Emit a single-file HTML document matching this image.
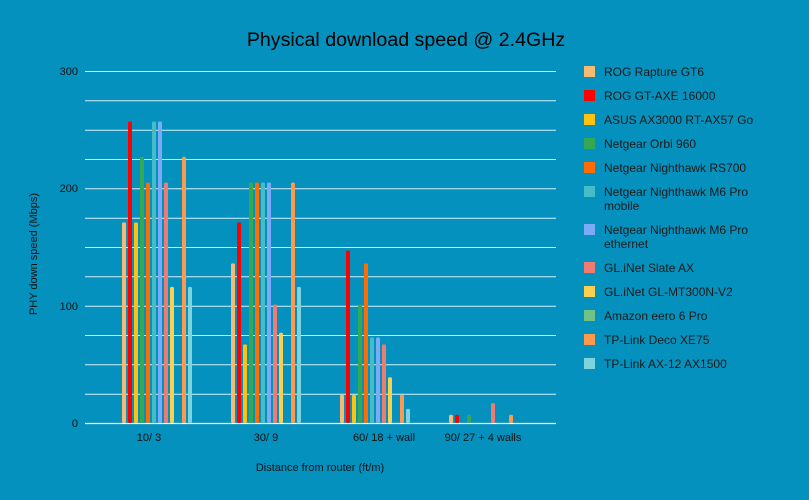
<!DOCTYPE html>
<html><head><meta charset="utf-8"><style>
html,body{margin:0;padding:0;background:#0591bd;}
svg{display:block;font-family:"Liberation Sans",Arial,sans-serif;}
</style></head><body>
<svg width="809" height="500" viewBox="0 0 809 500" xmlns="http://www.w3.org/2000/svg">
<rect width="809" height="500" fill="#0591bd"/>
<text x="406" y="46" font-size="19.6" text-anchor="middle" fill="#000">Physical download speed @ 2.4GHz</text>
<g stroke="#d6f0f8" stroke-width="1">
<line x1="85" x2="556" y1="71.5" y2="71.5"/><line x1="85" x2="556" y1="100.8" y2="100.8"/>
<line x1="85" x2="556" y1="130.2" y2="130.2"/><line x1="85" x2="556" y1="159.5" y2="159.5"/>
<line x1="85" x2="556" y1="188.8" y2="188.8"/><line x1="85" x2="556" y1="218.2" y2="218.2"/>
<line x1="85" x2="556" y1="247.5" y2="247.5"/><line x1="85" x2="556" y1="276.8" y2="276.8"/>
<line x1="85" x2="556" y1="306.2" y2="306.2"/><line x1="85" x2="556" y1="335.5" y2="335.5"/>
<line x1="85" x2="556" y1="364.8" y2="364.8"/><line x1="85" x2="556" y1="394.2" y2="394.2"/>
</g>
<line x1="85" x2="556" y1="423.5" y2="423.5" stroke="#ffffff" stroke-width="1.2"/>
<g font-size="11" fill="#111" text-anchor="end">
<text x="78" y="75">300</text><text x="78" y="192">200</text><text x="78" y="310">100</text><text x="78" y="427">0</text>
</g>
<g font-size="11" fill="#111" text-anchor="middle">
<text x="149" y="441">10/ 3</text><text x="266" y="441">30/ 9</text><text x="384" y="441">60/ 18 + wall</text><text x="483" y="441">90/ 27 + 4 walls</text>
</g>
<text x="320" y="471" font-size="11" fill="#111" text-anchor="middle">Distance from router (ft/m)</text>
<text transform="translate(37,254) rotate(-90)" font-size="11" fill="#111" text-anchor="middle">PHY down speed (Mbps)</text>
<g>
<rect x="122" y="222.4" width="4" height="200.6" rx="1.5" fill="#f6bb73"/>
<rect x="128" y="121.5" width="4" height="301.5" rx="1.5" fill="#ff0000"/>
<rect x="134" y="222.4" width="4" height="200.6" rx="1.5" fill="#ffc20e"/>
<rect x="140" y="156.7" width="4" height="266.3" rx="1.5" fill="#34a853"/>
<rect x="146" y="182.5" width="4" height="240.5" rx="1.5" fill="#ff6d01"/>
<rect x="152" y="121.5" width="4" height="301.5" rx="1.5" fill="#46bdc6"/>
<rect x="158" y="121.5" width="4" height="301.5" rx="1.5" fill="#7baaf7"/>
<rect x="164" y="182.5" width="4" height="240.5" rx="1.5" fill="#f07b72"/>
<rect x="170" y="286.9" width="4" height="136.1" rx="1.5" fill="#fcd04f"/>
<rect x="182" y="156.7" width="4" height="266.3" rx="1.5" fill="#ff994d"/>
<rect x="188" y="286.9" width="4" height="136.1" rx="1.5" fill="#7fd3dc"/>
<rect x="231" y="263.4" width="4" height="159.6" rx="1.5" fill="#f6bb73"/>
<rect x="237" y="222.4" width="4" height="200.6" rx="1.5" fill="#ff0000"/>
<rect x="243" y="344.4" width="4" height="78.6" rx="1.5" fill="#ffc20e"/>
<rect x="249" y="182.5" width="4" height="240.5" rx="1.5" fill="#34a853"/>
<rect x="255" y="182.5" width="4" height="240.5" rx="1.5" fill="#ff6d01"/>
<rect x="261" y="182.5" width="4" height="240.5" rx="1.5" fill="#46bdc6"/>
<rect x="267" y="182.5" width="4" height="240.5" rx="1.5" fill="#7baaf7"/>
<rect x="273" y="304.5" width="4" height="118.5" rx="1.5" fill="#f07b72"/>
<rect x="279" y="332.7" width="4" height="90.3" rx="1.5" fill="#fcd04f"/>
<rect x="291" y="182.5" width="4" height="240.5" rx="1.5" fill="#ff994d"/>
<rect x="297" y="286.9" width="4" height="136.1" rx="1.5" fill="#7fd3dc"/>
<rect x="340" y="394.8" width="4" height="28.2" rx="1.5" fill="#f6bb73"/>
<rect x="346" y="250.5" width="4" height="172.5" rx="1.5" fill="#ff0000"/>
<rect x="352" y="394.8" width="4" height="28.2" rx="1.5" fill="#ffc20e"/>
<rect x="358" y="304.5" width="4" height="118.5" rx="1.5" fill="#34a853"/>
<rect x="364" y="263.4" width="4" height="159.6" rx="1.5" fill="#ff6d01"/>
<rect x="370" y="337.4" width="4" height="85.6" rx="1.5" fill="#46bdc6"/>
<rect x="376" y="337.4" width="4" height="85.6" rx="1.5" fill="#7baaf7"/>
<rect x="382" y="344.4" width="4" height="78.6" rx="1.5" fill="#f07b72"/>
<rect x="388" y="377.2" width="4" height="45.8" rx="1.5" fill="#fcd04f"/>
<rect x="400" y="394.8" width="4" height="28.2" rx="1.5" fill="#ff994d"/>
<rect x="406" y="408.9" width="4" height="14.1" rx="1.5" fill="#7fd3dc"/>
<rect x="449" y="414.8" width="4" height="8.2" rx="1.5" fill="#f6bb73"/>
<rect x="455" y="414.8" width="4" height="8.2" rx="1.5" fill="#ff0000"/>
<rect x="467" y="414.8" width="4" height="8.2" rx="1.5" fill="#34a853"/>
<rect x="491" y="403.1" width="4" height="19.9" rx="1.5" fill="#f07b72"/>
<rect x="509" y="414.8" width="4" height="8.2" rx="1.5" fill="#ff994d"/>
</g>
<g font-size="12" fill="#1a1a1a">
<rect x="584" y="66" width="11" height="11" fill="#f6bb73"/><text x="604" y="76">ROG Rapture GT6</text>
<rect x="584" y="90" width="11" height="11" fill="#ff0000"/><text x="604" y="100">ROG GT-AXE 16000</text>
<rect x="584" y="114" width="11" height="11" fill="#ffc20e"/><text x="604" y="124">ASUS AX3000 RT-AX57 Go</text>
<rect x="584" y="138" width="11" height="11" fill="#34a853"/><text x="604" y="148">Netgear Orbi 960</text>
<rect x="584" y="162" width="11" height="11" fill="#ff6d01"/><text x="604" y="172">Netgear Nighthawk RS700</text>
<rect x="584" y="186" width="11" height="11" fill="#46bdc6"/><text x="604" y="196">Netgear Nighthawk M6 Pro</text><text x="604" y="210">mobile</text>
<rect x="584" y="224" width="11" height="11" fill="#7baaf7"/><text x="604" y="234">Netgear Nighthawk M6 Pro</text><text x="604" y="248">ethernet</text>
<rect x="584" y="262" width="11" height="11" fill="#f07b72"/><text x="604" y="272">GL.iNet Slate AX</text>
<rect x="584" y="286" width="11" height="11" fill="#fcd04f"/><text x="604" y="296">GL.iNet GL-MT300N-V2</text>
<rect x="584" y="310" width="11" height="11" fill="#71c287"/><text x="604" y="320">Amazon eero 6 Pro</text>
<rect x="584" y="334" width="11" height="11" fill="#ff994d"/><text x="604" y="344">TP-Link Deco XE75</text>
<rect x="584" y="358" width="11" height="11" fill="#7fd3dc"/><text x="604" y="368">TP-Link AX-12 AX1500</text>
</g>
</svg>
</body></html>
